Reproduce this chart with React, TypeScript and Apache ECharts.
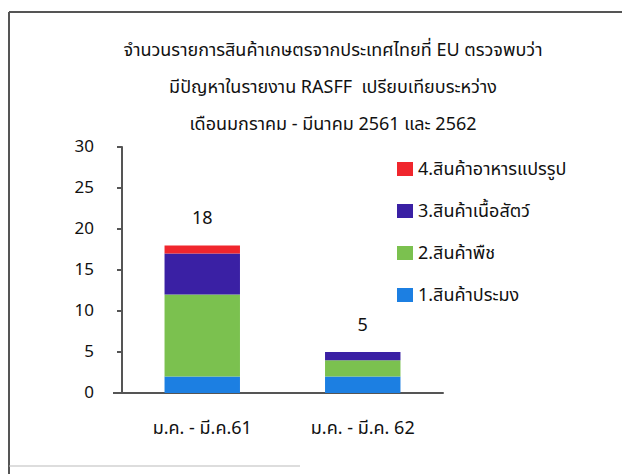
import React, { useEffect, useRef } from "react";
import * as echarts from "echarts";

const titleLines = [
  "จำนวนรายการสินค้าเกษตรจากประเทศไทยที่ EU ตรวจพบว่า",
  "มีปัญหาในรายงาน RASFF  เปรียบเทียบระหว่าง",
  "เดือนมกราคม - มีนาคม 2561 และ 2562",
];
const categories = ["ม.ค. - มี.ค.61", "ม.ค. - มี.ค. 62"];
const seriesNames = ["1.สินค้าประมง", "2.สินค้าพืช", "3.สินค้าเนื้อสัตว์", "4.สินค้าอาหารแปรรูป"];
const fishery = [2, 2];
const plant = [10, 2];
const meat = [5, 1];
const processed = [1, 0];
const totals = [18, 5];
const colors = ["#1c7fe2", "#7bc14f", "#3a20a4", "#f0262d"];

const FONT = "Tahoma, 'Noto Sans Thai', 'Noto Sans', 'DejaVu Sans', sans-serif";

export default function App() {
  const ref = useRef<HTMLDivElement>(null);
  useEffect(() => {
    if (!ref.current) return;
    const chart = echarts.init(ref.current, null, { renderer: "svg" });
    const values = [fishery, plant, meat, processed];
    chart.setOption({
      animation: false,
      backgroundColor: "#ffffff",
      textStyle: { fontFamily: FONT },
      title: {
        text: titleLines.join("\n"),
        left: 328,
        top: 27,
        textAlign: "center",
        textStyle: { fontSize: 18, lineHeight: 37, fontWeight: "normal", color: "#111", fontFamily: FONT },
      },
      graphic: [
        {
          type: "line",
          shape: { x1: 9, y1: 12, x2: 622, y2: 12 },
          style: { stroke: "#555", lineWidth: 2 },
          silent: true,
        },
        {
          type: "line",
          shape: { x1: 9, y1: 12, x2: 9, y2: 474 },
          style: { stroke: "#555", lineWidth: 2 },
          silent: true,
        },
        {
          type: "line",
          shape: { x1: 9, y1: 466, x2: 300, y2: 466 },
          style: { stroke: "#bbb", lineWidth: 1 },
          silent: true,
        },
        {
          type: "line",
          shape: { x1: 113, y1: 393, x2: 123, y2: 393 },
          style: { stroke: "#555", lineWidth: 2 },
          silent: true,
        },
      ],
      legend: {
        orient: "vertical",
        left: 392,
        top: 155,
        itemWidth: 16,
        itemHeight: 14,
        itemGap: 24,
        data: [...seriesNames].reverse(),
        textStyle: { fontSize: 18, color: "#111", fontFamily: FONT },
        icon: "rect",
      },
      grid: { left: 122, right: 179, top: 147, bottom: 81 },
      xAxis: {
        type: "category",
        data: categories,
        axisLine: { lineStyle: { color: "#555", width: 2 } },
        axisTick: { show: false },
        axisLabel: { fontSize: 18, color: "#111", margin: 26, fontFamily: FONT },
      },
      yAxis: {
        type: "value",
        min: 0,
        max: 30,
        interval: 5,
        axisLine: { show: true, lineStyle: { color: "#555", width: 2 } },
        axisTick: { show: true, length: 5, lineStyle: { color: "#555", width: 2 } },
        splitLine: { show: false },
        axisLabel: { fontSize: 17, color: "#111", margin: 28, fontFamily: FONT },
      },
      series: [
        ...seriesNames.map((name, i) => ({
          name,
          type: "bar",
          stack: "all",
          barWidth: "47%",
          data: values[i],
          itemStyle: { color: colors[i] },
        })),
        {
          name: "total",
          type: "bar",
          stack: "all",
          data: totals.map(() => 0),
          itemStyle: { color: "transparent" },
          label: {
            show: true,
            position: "top",
            distance: 18,
            fontSize: 18,
            color: "#111",
            fontFamily: FONT,
            formatter: (p: any) => String(totals[p.dataIndex]),
          },
        },
      ],
    });
    return () => chart.dispose();
  }, []);
  return (
    <div
      ref={ref}
      style={{ position: "fixed", left: 0, top: 0, width: 622, height: 474, background: "#fff" }}
    />
  );
}
